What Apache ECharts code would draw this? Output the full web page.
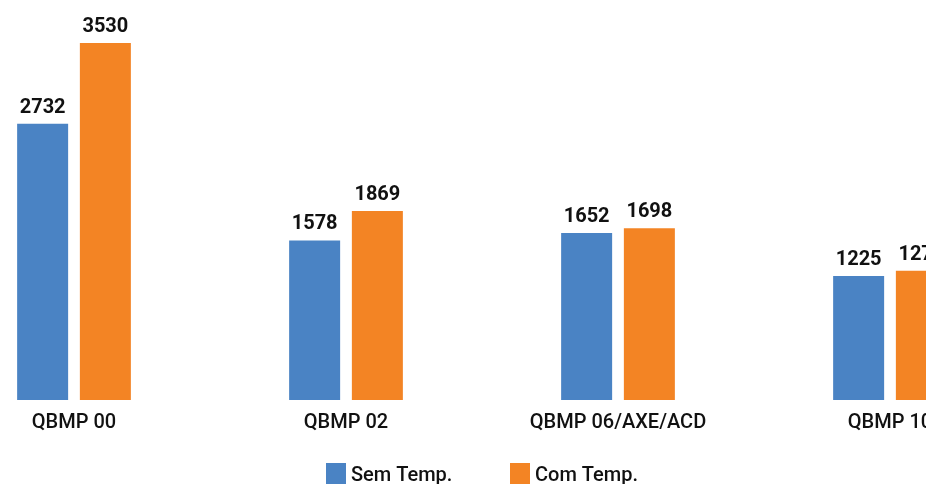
<!DOCTYPE html>
<html>
<head>
<meta charset="utf-8">
<script src="https://cdn.jsdelivr.net/npm/echarts@6/dist/echarts.min.js"></script>
<style>
  html, body { margin: 0; padding: 0; width: 926px; height: 484px; overflow: hidden; background: #fff; }
  #main { position: absolute; left: -62px; top: 0; width: 1100px; height: 484px; }
</style>
</head>
<body>
<div id="main"></div>
<script>
const categories = ['QBMP 00', 'QBMP 02', 'QBMP 06/AXE/ACD', 'QBMP 10']
const semTemp = [2732, 1578, 1652, 1225]
const comTemp = [3530, 1869, 1698, 1278]

const textFont = 'Roboto'
const chart = echarts.init(document.getElementById('main'))

// one legend per item so each square sits where it should
const legendItem = (name, left) => ({
  data: [name],
  left: left,
  top: 463,
  padding: 0,
  itemWidth: 20,
  itemHeight: 26,
  icon: 'rect',
  textStyle: { fontFamily: textFont, fontSize: 20, fontWeight: 500, color: '#111' }
})

chart.setOption({
  animation: false,
  legend: [legendItem('Sem Temp.', 388), legendItem('Com Temp.', 572)],
  grid: {
    left: 0,
    top: 43,
    width: 1088,
    height: 357,
    outerBoundsMode: 'none'
  },
  xAxis: {
    type: 'category',
    data: categories,
    axisLine: { show: false },
    axisTick: { show: false },
    axisLabel: {
      margin: 13,
      fontFamily: textFont,
      fontSize: 20,
      fontWeight: 500,
      color: '#111'
    }
  },
  yAxis: {
    type: 'value',
    min: 0,
    max: 3530,
    show: false,
    splitLine: { show: false }
  },
  series: [
    {
      name: 'Sem Temp.',
      type: 'bar',
      data: semTemp,
      barWidth: 51,
      barGap: '23%',
      itemStyle: { color: '#4a83c4' },
      label: {
        show: true,
        position: 'top',
        distance: 6,
        fontFamily: textFont,
        fontSize: 20,
        fontWeight: 'bold',
        color: '#111'
      }
    },
    {
      name: 'Com Temp.',
      type: 'bar',
      data: comTemp,
      barWidth: 51,
      itemStyle: { color: '#f38424' },
      label: {
        show: true,
        position: 'top',
        distance: 6,
        fontFamily: textFont,
        fontSize: 20,
        fontWeight: 'bold',
        color: '#111'
      }
    }
  ]
})
</script>
</body>
</html>
